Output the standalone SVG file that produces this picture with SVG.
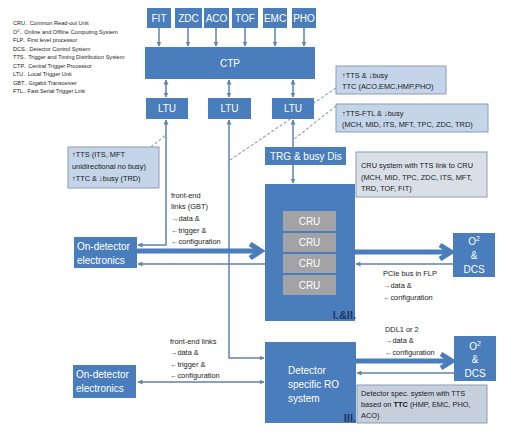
<svg xmlns="http://www.w3.org/2000/svg" width="514" height="435" viewBox="0 0 514 435">
<defs>
<style>
text{font-family:"Liberation Sans",Arial,sans-serif}
.node{fill:#4a7dbb}
.nl{fill:#fff;font-size:10px;text-anchor:middle}
.cru{fill:#a3a3a5}
.gl{font-size:5.6px;fill:#222}
.ct{font-size:7.4px;fill:#1a1a1a}
.co{fill:#c4d4e9;stroke:#8c9cb2;stroke-width:1}
.cog{fill:#d9dfe7;stroke:#8c9cb2;stroke-width:1}
.cod{fill:#c6d0dc;stroke:#8c9cb2;stroke-width:1}
.ln{fill:none;stroke:#6282ad;stroke-width:1.5}
.thick{fill:none;stroke:#4a7dbb;stroke-width:5}
.dash{fill:none;stroke:#9aa5b4;stroke-width:1.2;stroke-dasharray:3,2}
.roman{fill:#1f3864;font-weight:bold;font-size:11px}
</style>
<marker id="ah" viewBox="0 0 10 10" refX="9" refY="5" markerWidth="5" markerHeight="5" orient="auto-start-reverse" markerUnits="userSpaceOnUse">
<path d="M0,0 L10,5 L0,10 z" fill="#6282ad"/>
</marker>
</defs>
<rect width="514" height="435" fill="#fff"/>

<g id="glossary">
<text class="gl" x="13" y="25">CRU.. Common Read-out Unit</text>
<text class="gl" x="13" y="33.5">O<tspan font-size="4" dy="-2">2</tspan><tspan dy="2">.. Online and Offline Computing System</tspan></text>
<text class="gl" x="13" y="42">FLP.. First level processor</text>
<text class="gl" x="13" y="50.5">DCS.. Detector Control System</text>
<text class="gl" x="13" y="59">TTS.. Trigger and Timing Distribution System</text>
<text class="gl" x="13" y="67.5">CTP.. Central Trigger Processor</text>
<text class="gl" x="13" y="76">LTU.. Local Trigger Unit</text>
<text class="gl" x="13" y="84.5">GBT.. Gigabit Transceiver</text>
<text class="gl" x="13" y="93">FTL.. Fast Serial Trigger Link</text>
</g>

<g id="connectors">
<line class="ln" x1="159" y1="28" x2="159" y2="46" marker-end="url(#ah)"/>
<line class="ln" x1="188" y1="28" x2="188" y2="46" marker-end="url(#ah)"/>
<line class="ln" x1="216" y1="28" x2="216" y2="46" marker-end="url(#ah)"/>
<line class="ln" x1="245" y1="28" x2="245" y2="46" marker-end="url(#ah)"/>
<line class="ln" x1="275" y1="28" x2="275" y2="46" marker-end="url(#ah)"/>
<line class="ln" x1="304" y1="28" x2="304" y2="46" marker-end="url(#ah)"/>
<line class="ln" x1="166" y1="80" x2="166" y2="97" marker-start="url(#ah)" marker-end="url(#ah)"/>
<line class="ln" x1="229" y1="80" x2="229" y2="97" marker-start="url(#ah)" marker-end="url(#ah)"/>
<line class="ln" x1="293" y1="80" x2="293" y2="97" marker-start="url(#ah)" marker-end="url(#ah)"/>
<path class="ln" d="M166,120 V245 H138" marker-start="url(#ah)" marker-end="url(#ah)"/>
<path class="ln" d="M229,120 V358 H264" marker-start="url(#ah)" marker-end="url(#ah)"/>
<path class="ln" d="M293,120 V183" marker-start="url(#ah)" marker-end="url(#ah)"/>
<line class="ln" x1="265" y1="264" x2="138" y2="264" marker-end="url(#ah)"/>
<line class="ln" x1="453" y1="264" x2="356" y2="264" marker-end="url(#ah)"/>
<line class="ln" x1="454" y1="373" x2="357" y2="373" marker-end="url(#ah)"/>
<line class="ln" x1="138" y1="382" x2="264" y2="382" marker-start="url(#ah)" marker-end="url(#ah)"/>
<line class="thick" x1="137" y1="251" x2="260" y2="251"/>
<polyline class="thick" points="250,244 261,251 250,258"/>
<line class="thick" x1="355" y1="252" x2="450" y2="252"/>
<polyline class="thick" points="440,245 451,252 440,259"/>
<line class="thick" x1="356" y1="361" x2="451" y2="361"/>
<polyline class="thick" points="441,354 452,361 441,368"/>
<line class="dash" x1="336" y1="88" x2="230" y2="160"/>
<line class="dash" x1="336" y1="106" x2="293" y2="140"/>
<line class="dash" x1="147" y1="150" x2="166" y2="135"/>
</g>

<g id="FIT"><rect class="node" x="147" y="8" width="24" height="20"/><text class="nl" x="159" y="22">FIT</text></g>
<g id="ZDC"><rect class="node" x="175" y="8" width="27" height="20"/><text class="nl" x="188.5" y="22">ZDC</text></g>
<g id="ACO"><rect class="node" x="204" y="8" width="25" height="20"/><text class="nl" x="216.5" y="22">ACO</text></g>
<g id="TOF"><rect class="node" x="232" y="8" width="26" height="20"/><text class="nl" x="245" y="22">TOF</text></g>
<g id="EMC"><rect class="node" x="263" y="8" width="24" height="20"/><text class="nl" x="275" y="22">EMC</text></g>
<g id="PHO"><rect class="node" x="292" y="8" width="24" height="20"/><text class="nl" x="304" y="22">PHO</text></g>

<g id="CTP"><rect class="node" x="145" y="47" width="170" height="32"/><text class="nl" x="230" y="67" font-size="11">CTP</text></g>

<g id="LTU1"><rect class="node" x="146" y="98" width="42" height="21"/><text class="nl" x="167" y="112">LTU</text></g>
<g id="LTU2"><rect class="node" x="208" y="98" width="43" height="21"/><text class="nl" x="229.5" y="112">LTU</text></g>
<g id="LTU3"><rect class="node" x="272" y="98" width="42" height="21"/><text class="nl" x="293" y="112">LTU</text></g>

<g id="TRG"><rect class="node" x="265" y="147" width="81" height="18"/><text class="nl" x="270" y="160" text-anchor="start" style="text-anchor:start" font-size="10.5">TRG &amp; busy Dis</text></g>

<g id="callout-tts-ttc">
<rect class="co" x="336" y="66" width="110" height="28"/>
<text class="ct" x="342" y="78">↑TTS &amp; ↓busy</text>
<text class="ct" x="342" y="89">TTC (ACO,EMC,HMP,PHO)</text>
</g>
<g id="callout-tts-ftl">
<rect class="co" x="336" y="104" width="152" height="28"/>
<text class="ct" x="342" y="116">↑TTS-FTL &amp; ↓busy</text>
<text class="ct" x="342" y="127">(MCH, MID, ITS, MFT, TPC, ZDC, TRD)</text>
</g>
<g id="callout-left">
<rect class="co" x="68" y="147" width="91" height="41"/>
<text class="ct" x="72" y="157" font-size="7.8">↑TTS (ITS, MFT</text>
<text class="ct" x="72" y="169" font-size="7.8">unidirectional no busy)</text>
<text class="ct" x="72" y="181" font-size="7.8">↑TTC &amp; ↓busy (TRD)</text>
</g>
<g id="callout-cru">
<rect class="cog" x="356" y="152" width="131" height="45"/>
<text class="ct" x="361" y="168">CRU system with TTS link to CRU</text>
<text class="ct" x="361" y="180">(MCH, MID, TPC, ZDC, ITS, MFT,</text>
<text class="ct" x="361" y="191">TRD, TOF, FIT)</text>
</g>

<g id="cru-system">
<rect class="node" x="265" y="184" width="90" height="137"/>
<rect class="cru" x="283" y="211" width="53" height="20"/><text class="nl" x="309.5" y="225">CRU</text>
<rect class="cru" x="283" y="233" width="53" height="19"/><text class="nl" x="309.5" y="246">CRU</text>
<rect class="cru" x="283" y="254" width="53" height="19"/><text class="nl" x="309.5" y="267">CRU</text>
<rect class="cru" x="283" y="275" width="53" height="20"/><text class="nl" x="309.5" y="289">CRU</text>
<text class="roman" x="356" y="319" text-anchor="end">I.&amp;II.</text>
</g>

<g id="ondet-1"><rect class="node" x="74" y="237" width="63" height="31"/>
<text class="nl" x="77" y="250" style="text-anchor:start" font-size="10.5">On-detector</text>
<text class="nl" x="77" y="264" style="text-anchor:start" font-size="10.5">electronics</text></g>

<g id="o2dcs-1"><rect class="node" x="453" y="233" width="42" height="44"/>
<text class="nl" x="474" y="245">O<tspan font-size="7" dy="-4">2</tspan></text>
<text class="nl" x="474" y="259">&amp;</text>
<text class="nl" x="474" y="273">DCS</text></g>

<g id="labels">
<text class="ct" x="171" y="198">front-end</text>
<text class="ct" x="171" y="209">links (GBT)</text>
<text class="ct" x="171" y="221">→data &amp;</text>
<text class="ct" x="171" y="233">←trigger &amp;</text>
<text class="ct" x="171" y="244">←configuration</text>
<text class="ct" x="383" y="276">PCIe bus in FLP</text>
<text class="ct" x="383" y="288">→data &amp;</text>
<text class="ct" x="383" y="300">←configuration</text>
<text class="ct" x="170" y="344">front-end links</text>
<text class="ct" x="170" y="355">→data &amp;</text>
<text class="ct" x="170" y="367">←trigger &amp;</text>
<text class="ct" x="170" y="378">←configuration</text>
<text class="ct" x="385" y="332">DDL1 or 2</text>
<text class="ct" x="385" y="343">→data &amp;</text>
<text class="ct" x="385" y="355">←configuration</text>
</g>

<g id="ondet-2"><rect class="node" x="73" y="365" width="63" height="33"/>
<text class="nl" x="76" y="378" style="text-anchor:start" font-size="10.5">On-detector</text>
<text class="nl" x="76" y="392" style="text-anchor:start" font-size="10.5">electronics</text></g>

<g id="detector-ro"><rect class="node" x="265" y="342" width="91" height="81"/>
<text class="nl" x="288" y="374" style="text-anchor:start">Detector</text>
<text class="nl" x="288" y="388" style="text-anchor:start">specific RO</text>
<text class="nl" x="288" y="402" style="text-anchor:start">system</text>
<text class="roman" x="356" y="422" text-anchor="end">III.</text></g>

<g id="o2dcs-2"><rect class="node" x="454" y="336" width="42" height="45"/>
<text class="nl" x="475" y="350">O<tspan font-size="7" dy="-4">2</tspan></text>
<text class="nl" x="475" y="363">&amp;</text>
<text class="nl" x="475" y="377">DCS</text></g>

<g id="callout-detspec">
<rect class="cod" x="357" y="385" width="130" height="38"/>
<text class="ct" x="361" y="396">Detector spec. system with TTS</text>
<text class="ct" x="361" y="407">based on <tspan font-weight="bold">TTC</tspan> (HMP, EMC, PHO,</text>
<text class="ct" x="361" y="418">ACO)</text>
</g>
</svg>
